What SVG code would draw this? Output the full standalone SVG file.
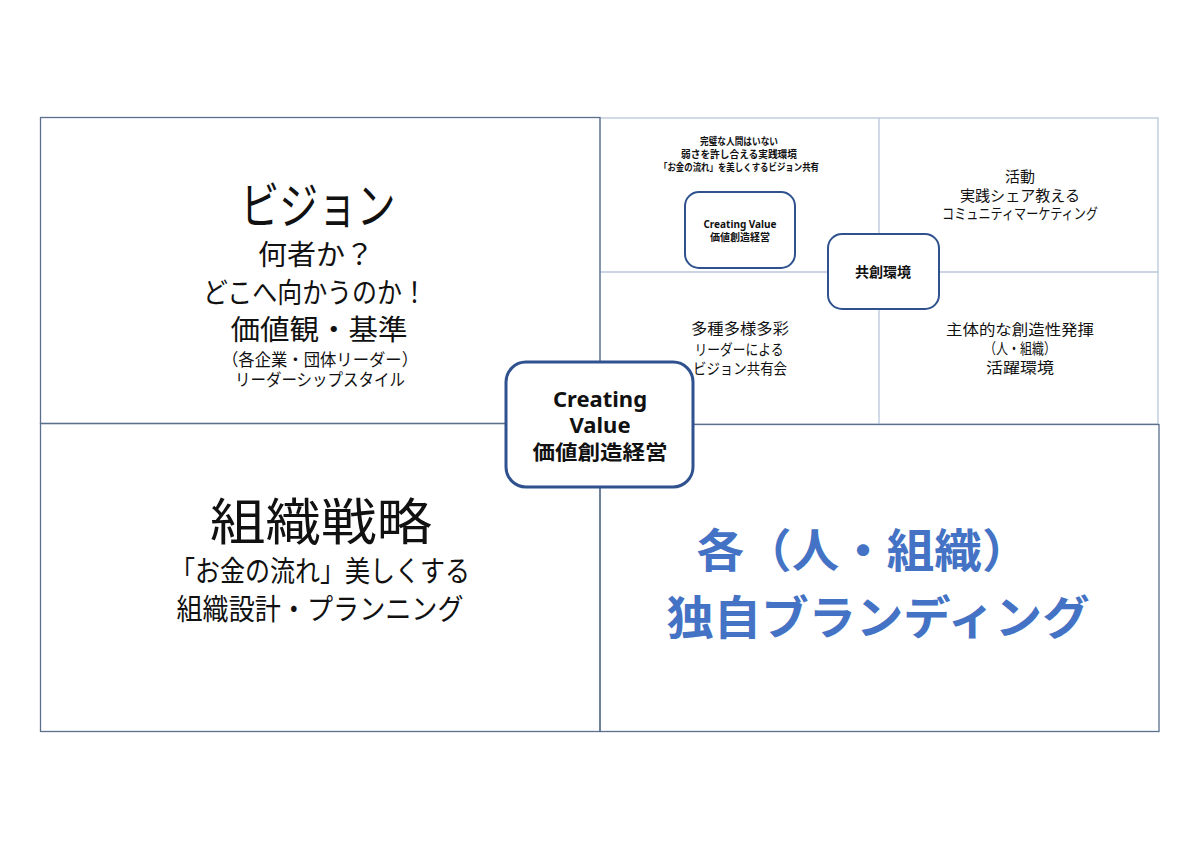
<svg xmlns="http://www.w3.org/2000/svg" width="1200" height="849" viewBox="0 0 1200 849">
<style>
.t{font-family:"Noto Sans CJK JP","Noto Sans",sans-serif;fill:#111;text-anchor:middle}
.b{font-weight:bold}
.bl{fill:#4472C4;font-weight:bold}
.lat{font-family:"Noto Sans","Noto Sans CJK JP",sans-serif}
.frame{fill:none;stroke:#5b6f8c;stroke-width:1.3}
.grid{fill:none;stroke:#b9c6da;stroke-width:1.3}
.node{fill:#fff;stroke:#2F528F}
</style>
<rect width="1200" height="849" fill="#fff"/>
<g id="connectors">
<rect class="grid" x="600" y="118" width="558" height="306"/>
<line class="grid" x1="879" y1="118" x2="879" y2="424"/>
<line class="grid" x1="600" y1="272" x2="1158" y2="272"/>
<rect class="frame" x="40.5" y="117.5" width="559.5" height="306"/>
<rect class="frame" x="40.5" y="423.5" width="559.5" height="308"/>
<rect class="frame" x="600" y="424.5" width="559" height="307" stroke="#8da2c4"/>
</g>
<g id="vision">
<text class="t" x="318" y="224" font-size="50" textLength="155" lengthAdjust="spacingAndGlyphs">ビジョン</text>
<text class="t" x="316" y="265" font-size="28" textLength="116" lengthAdjust="spacingAndGlyphs">何者か？</text>
<text class="t" x="315" y="303" font-size="28" textLength="224" lengthAdjust="spacingAndGlyphs">どこへ向かうのか！</text>
<text class="t" x="319" y="340" font-size="28" textLength="177" lengthAdjust="spacingAndGlyphs">価値観・基準</text>
<text class="t" x="320" y="366" font-size="17" textLength="196" lengthAdjust="spacingAndGlyphs">（各企業・団体リーダー）</text>
<text class="t" x="320" y="386" font-size="17" textLength="170" lengthAdjust="spacingAndGlyphs">リーダーシップスタイル</text>
</g>
<g id="strategy">
<text class="t" x="321" y="540" font-size="50" textLength="222" lengthAdjust="spacingAndGlyphs">組織戦略</text>
<text class="t" x="320" y="582" font-size="29" textLength="300" lengthAdjust="spacingAndGlyphs">「お金の流れ」美しくする</text>
<text class="t" x="320" y="620" font-size="29" textLength="287" lengthAdjust="spacingAndGlyphs">組織設計・プランニング</text>
</g>
<g id="branding">
<text class="t bl" x="863" y="567" font-size="46" textLength="333" lengthAdjust="spacingAndGlyphs">各（人・組織）</text>
<text class="t bl" x="878" y="634" font-size="46" textLength="423" lengthAdjust="spacingAndGlyphs">独自ブランディング</text>
</g>
<g id="top-left-cell">
<text class="t b" x="739" y="145" font-size="10" textLength="78" lengthAdjust="spacingAndGlyphs">完璧な人間はいない</text>
<text class="t b" x="739" y="158" font-size="10" textLength="116" lengthAdjust="spacingAndGlyphs">弱さを許し合える実践環境</text>
<text class="t b" x="739" y="171" font-size="10" textLength="160" lengthAdjust="spacingAndGlyphs">「お金の流れ」を美しくするビジョン共有</text>
</g>
<g id="activity">
<text class="t" x="1020" y="182" font-size="15">活動</text>
<text class="t" x="1020" y="201" font-size="15" textLength="120" lengthAdjust="spacingAndGlyphs">実践シェア教える</text>
<text class="t" x="1020" y="219" font-size="15" textLength="156" lengthAdjust="spacingAndGlyphs">コミュニティマーケティング</text>
</g>
<g id="diversity">
<text class="t" x="740" y="334" font-size="15" textLength="98" lengthAdjust="spacingAndGlyphs">多種多様多彩</text>
<text class="t" x="739" y="355" font-size="15" textLength="89" lengthAdjust="spacingAndGlyphs">リーダーによる</text>
<text class="t" x="740" y="374" font-size="15" textLength="94" lengthAdjust="spacingAndGlyphs">ビジョン共有会</text>
</g>
<g id="creativity">
<text class="t" x="1020" y="335" font-size="15" textLength="148" lengthAdjust="spacingAndGlyphs">主体的な創造性発揮</text>
<text class="t" x="1020" y="354" font-size="15" textLength="72" lengthAdjust="spacingAndGlyphs">（人・組織）</text>
<text class="t" x="1020" y="373" font-size="15" textLength="68" lengthAdjust="spacingAndGlyphs">活躍環境</text>
</g>
<g id="small-cv">
<rect class="node" x="685" y="192" width="110" height="76" rx="14" stroke-width="2"/>
<text class="t b lat" x="740" y="228" font-size="10">Creating Value</text>
<text class="t b" x="740" y="241" font-size="10">価値創造経営</text>
</g>
<g id="kyoso">
<rect class="node" x="828" y="234" width="111" height="75" rx="14" stroke-width="2"/>
<text class="t b" x="883" y="277" font-size="14">共創環境</text>
</g>
<g id="center-cv">
<rect class="node" x="506" y="362" width="187" height="125" rx="20" stroke-width="3"/>
<text class="t b lat" x="600" y="407" font-size="22">Creating</text>
<text class="t b lat" x="600" y="433" font-size="22">Value</text>
<text class="t b" x="600" y="460" font-size="20" textLength="135" lengthAdjust="spacingAndGlyphs">価値創造経営</text>
</g>
</svg>
